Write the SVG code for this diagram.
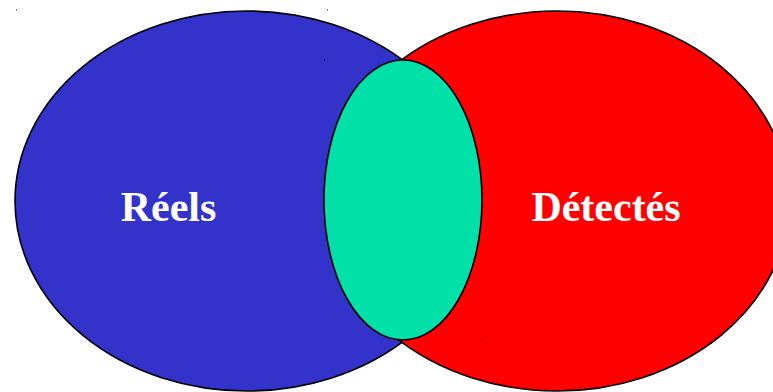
<svg xmlns="http://www.w3.org/2000/svg" width="773" height="392" viewBox="0 0 773 392">
<style>
.set{stroke:#000;stroke-width:1.6}
.lbl{font-family:"Liberation Serif","Times New Roman",serif;font-weight:bold;font-size:42px;fill:#fff;text-anchor:middle}
.dot{fill:#000}
</style>
<rect width="773" height="392" fill="#fff"/>
<g id="reels">
<ellipse class="set" cx="247" cy="201" rx="232" ry="190" fill="#3333cc"/>
</g>
<g id="detectes">
<ellipse class="set" cx="557" cy="201" rx="232" ry="190" fill="#ff0000"/>
</g>
<g id="intersection">
<ellipse class="set" cx="403" cy="200" rx="79" ry="140" fill="#00e0a8"/>
</g>
<g id="labels">
<text class="lbl" x="168.5" y="221">Réels</text>
<text class="lbl" x="606" y="221">Détectés</text>
</g>
<g id="marks">
<rect class="dot" x="16" y="9.5" width="1" height="1"/>
<rect class="dot" x="327" y="9.5" width="1" height="1"/>
<rect class="dot" x="324" y="59.5" width="1" height="1"/>
<rect class="dot" x="482" y="339.5" width="1" height="1"/>
</g>
<g id="connectors"></g>
</svg>
